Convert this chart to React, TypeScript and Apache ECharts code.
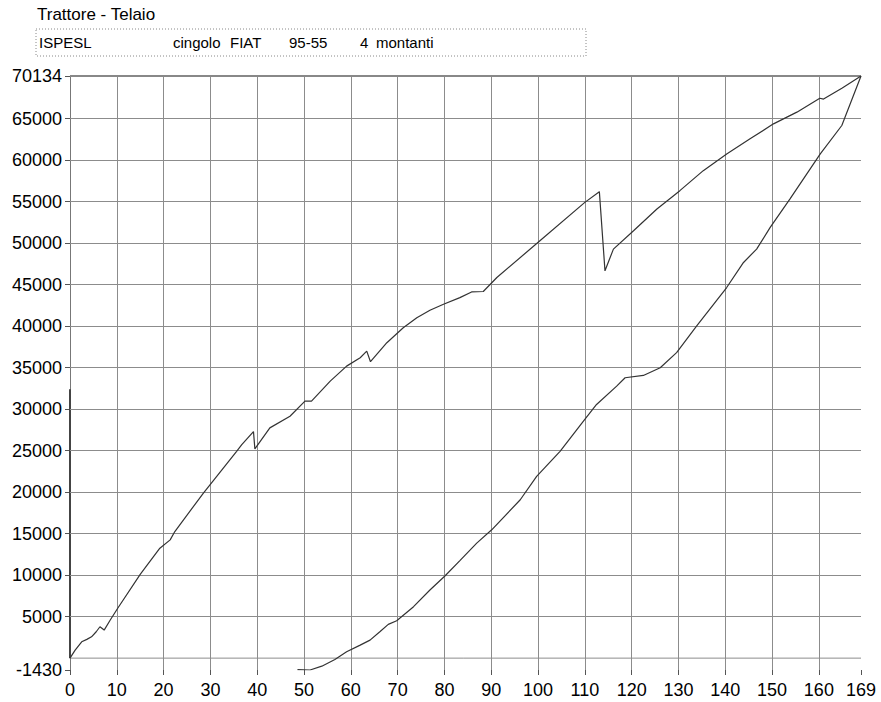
import React, { useEffect, useRef } from "react";
import * as echarts from "echarts";

const titleText = "Trattore - Telaio";
const infoTexts = ["ISPESL", "cingolo", "FIAT", "95-55", "4", "montanti"];

const xTickValues = [0, 10, 20, 30, 40, 50, 60, 70, 80, 90, 100, 110, 120, 130, 140, 150, 160, 169];
const yTickValues = [-1430, 5000, 10000, 15000, 20000, 25000, 30000, 35000, 40000, 45000, 50000, 55000, 60000, 65000, 70134];
const yGridValues = [5000, 10000, 15000, 20000, 25000, 30000, 35000, 40000, 45000, 50000, 55000, 60000, 65000];
const xGridValues = [10, 20, 30, 40, 50, 60, 70, 80, 90, 100, 110, 120, 130, 140, 150, 160];

const loadingCurve: [number, number][] = [
  [0, 0], [1.1, 970], [2.5, 1970], [3.6, 2260], [4.6, 2570], [5.6, 3180], [6.4, 3780], [7.3, 3380],
  [8.6, 4590], [10.3, 6100], [15, 10100], [19.2, 13240], [21.4, 14250], [22.4, 15250], [28.5, 19890],
  [35.6, 24920], [36.7, 25720], [39.2, 27300], [39.5, 25200], [42.7, 27740], [47, 29140], [50.2, 30960],
  [51.6, 30960], [55.6, 33370], [59.1, 35180], [62, 36190], [63.4, 36990], [64.2, 35710], [67.7, 38000],
  [71.2, 39810], [74.1, 41020], [76.9, 41910], [79.8, 42630], [83.3, 43430], [85.8, 44120], [88.3, 44170],
  [91.2, 45860], [100.4, 50280], [110, 54910], [113.1, 56200], [114.3, 46660], [116.1, 49280],
  [120.4, 51490], [125.4, 54110], [130.3, 56320], [135.3, 58730], [140.3, 60750], [145.3, 62560],
  [150.3, 64370], [155.3, 65780], [160.2, 67450], [161, 67350], [165, 68700], [169, 70134],
];

const unloadingCurve: [number, number][] = [
  [169, 70134], [164.9, 64170], [160.3, 60750], [153.8, 55310], [149.6, 51890], [146.7, 49280],
  [143.9, 47670], [140.3, 44650], [133.9, 40020], [129.6, 36800], [126.1, 34990], [122.5, 34060],
  [118.6, 33780], [116.8, 32770], [112.5, 30560], [109.7, 28540], [104.7, 24920], [99.7, 21900],
  [96.2, 19080], [90.1, 15460], [86.9, 13850], [83.3, 11750], [80.1, 9900], [76.9, 8210], [73.4, 6200],
  [69.8, 4510], [68, 4070], [66.2, 3180], [64.1, 2170], [62, 1570], [59.1, 760], [56.6, -160],
  [53.8, -970], [51.3, -1430], [48.6, -1380],
];

const startTrace: [number, number][] = [[0, 0], [0, 32400]];
const zeroLine: [number, number][] = [[0, 0], [84, 0], [169, 0]];

const X_MIN = 0;
const X_MAX = 169;
const Y_MIN = -1430;
const Y_MAX = 70134;

const FONT = '"Liberation Sans", Arial, sans-serif';

export default function App() {
  const ref = useRef<HTMLDivElement>(null);
  useEffect(() => {
    if (!ref.current) return;
    const chart = echarts.init(ref.current, undefined, { renderer: "svg" });
    const gridLine = { color: "#8c8c8c", width: 1, type: "solid" as const };
    const hLines = yGridValues.map((v) => [{ coord: [X_MIN, v] }, { coord: [X_MAX, v] }]);
    const vLines = xGridValues.map((v) => [{ coord: [v, Y_MIN] }, { coord: [v, Y_MAX] }]);
    const topLine = [
      { coord: [X_MIN, Y_MAX], lineStyle: { color: "#888", width: 2, type: "solid" } },
      { coord: [X_MAX, Y_MAX] },
    ];
    const txt = (s: string, left: number, top: number, size: number) => ({
      type: "text",
      left,
      top,
      style: { text: s, font: `${size}px ${FONT}`, fill: "#000" },
    });
    chart.setOption({
      animation: false,
      backgroundColor: "#fff",
      grid: { left: 70, right: 20, top: 76, bottom: 32, containLabel: false },
      xAxis: {
        type: "value",
        min: X_MIN,
        max: X_MAX,
        position: "bottom",
        axisLine: { show: false, onZero: false },
        axisTick: { show: true, length: 5, customValues: xTickValues, lineStyle: { color: "#555" } },
        axisLabel: {
          customValues: xTickValues,
          color: "#000",
          fontFamily: FONT,
          fontSize: 18,
          margin: 11,
          formatter: (v: number) => String(v),
        },
        splitLine: { show: false },
      },
      yAxis: {
        type: "value",
        min: Y_MIN,
        max: Y_MAX,
        axisLine: { show: true, onZero: false, lineStyle: { color: "#777", width: 1 } },
        axisTick: { show: true, length: 5, customValues: yTickValues, lineStyle: { color: "#555" } },
        axisLabel: {
          customValues: yTickValues,
          color: "#000",
          fontFamily: FONT,
          fontSize: 18,
          margin: 8,
          formatter: (v: number) => String(v),
        },
        splitLine: { show: false },
      },
      graphic: [
        txt(titleText, 37, 6, 17),
        {
          type: "rect",
          shape: { x: 36, y: 29, width: 550, height: 27 },
          style: { fill: "none", stroke: "#888", lineWidth: 1, lineDash: [1, 2] },
        },
        txt(infoTexts[0], 39, 35, 15),
        txt(infoTexts[1], 173, 35, 15),
        txt(infoTexts[2], 230, 35, 15),
        txt(infoTexts[3], 289, 35, 15),
        txt(infoTexts[4], 360, 35, 15),
        txt(infoTexts[5], 376, 35, 15),
      ],
      series: [
        {
          type: "line",
          data: zeroLine,
          showSymbol: false,
          symbol: "none",
          lineStyle: { color: "#8c8c8c", width: 1 },
          z: 1,
          silent: true,
        },
        {
          type: "line",
          data: startTrace,
          showSymbol: false,
          symbol: "none",
          lineStyle: { color: "#444", width: 2 },
          z: 2,
          silent: true,
          markLine: {
            silent: true,
            symbol: ["none", "none"],
            label: { show: false },
            animation: false,
            lineStyle: gridLine,
            data: [...hLines, ...vLines, topLine],
          },
        },
        {
          type: "line",
          data: loadingCurve,
          showSymbol: false,
          symbol: "none",
          lineStyle: { color: "#333", width: 1.2 },
          z: 6,
          silent: true,
        },
        {
          type: "line",
          data: unloadingCurve,
          showSymbol: false,
          symbol: "none",
          lineStyle: { color: "#333", width: 1.2 },
          z: 6,
          silent: true,
        },
      ],
    });
    return () => chart.dispose();
  }, []);
  return (
    <div
      ref={ref}
      style={{ position: "fixed", left: 0, top: 0, width: 881, height: 702, background: "#fff" }}
    />
  );
}
